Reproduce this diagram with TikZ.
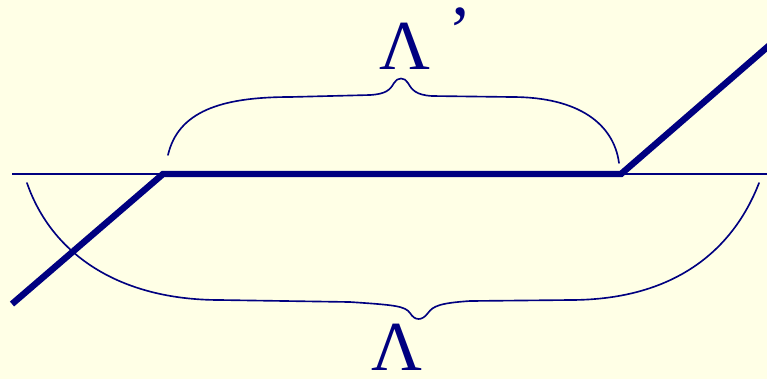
\documentclass[tikz,border=0pt]{standalone}
\usepackage{fontspec}
\setmainfont{Liberation Serif}
\usepackage{xcolor}
\usetikzlibrary{positioning, calc}

\definecolor{navy}{HTML}{000080}
\definecolor{paper}{HTML}{FFFFE6}

\begin{document}
\begin{tikzpicture}[x=0.03cm, y=-0.03cm,
    axis/.style={draw=navy, line width=1.4pt},
    fold/.style={draw=navy, line width=5.5pt, line join=miter},
    brace/.style={draw=navy, line width=1.4pt, line cap=round},
    lbl/.style={text=navy, font=\fontsize{60}{60}\selectfont, inner sep=0pt, anchor=base west}
]
    % canvas
    \fill[paper] (0,0) rectangle (767,379);
    \useasboundingbox (0,0) rectangle (767,379);
    \clip (0,0) rectangle (767,379);

    % points
    \coordinate (a0) at (12,174);
    \coordinate (a1) at (767,174);
    \coordinate (f0) at (12,304);
    \coordinate (f1) at (163,174);
    \coordinate (f2) at (621,174);
    \coordinate (f3) at (772,43);

    \draw[axis] (a0) -- (a1);
    \draw[fold] (f0) -- (f1) -- (f2) -- (f3);

    % upper brace
    \coordinate (ul) at (168,155);
    \coordinate (ur) at (619,163);
    \draw[brace] (ul) .. controls (178,112) and (220,97) .. (290,97)
        -- (370,95) .. controls (386,94) and (390,90) .. (394,83)
        .. controls (397,77) and (405,77) .. (408,83)
        .. controls (412,90) and (416,95) .. (432,96)
        -- (512,97) .. controls (580,97) and (614,125) .. (ur);
    \node[lbl] (lamup) at (379,69) {Λ\hspace{0.26em}\raisebox{0.2em}{’}};

    % lower brace
    \coordinate (ll) at (27,183);
    \coordinate (lr) at (759,183);
    \draw[brace] (ll) .. controls (52,255) and (120,300) .. (220,300)
        -- (350,302) .. controls (395,305) and (405,306) .. (410,313)
        .. controls (415,321) and (422,321) .. (428,313)
        .. controls (433,306) and (440,303) .. (470,301)
        -- (570,300) .. controls (680,300) and (735,245) .. (lr);
    \node[lbl] (lamdown) at (371,370) {Λ};
\end{tikzpicture}
\end{document}
